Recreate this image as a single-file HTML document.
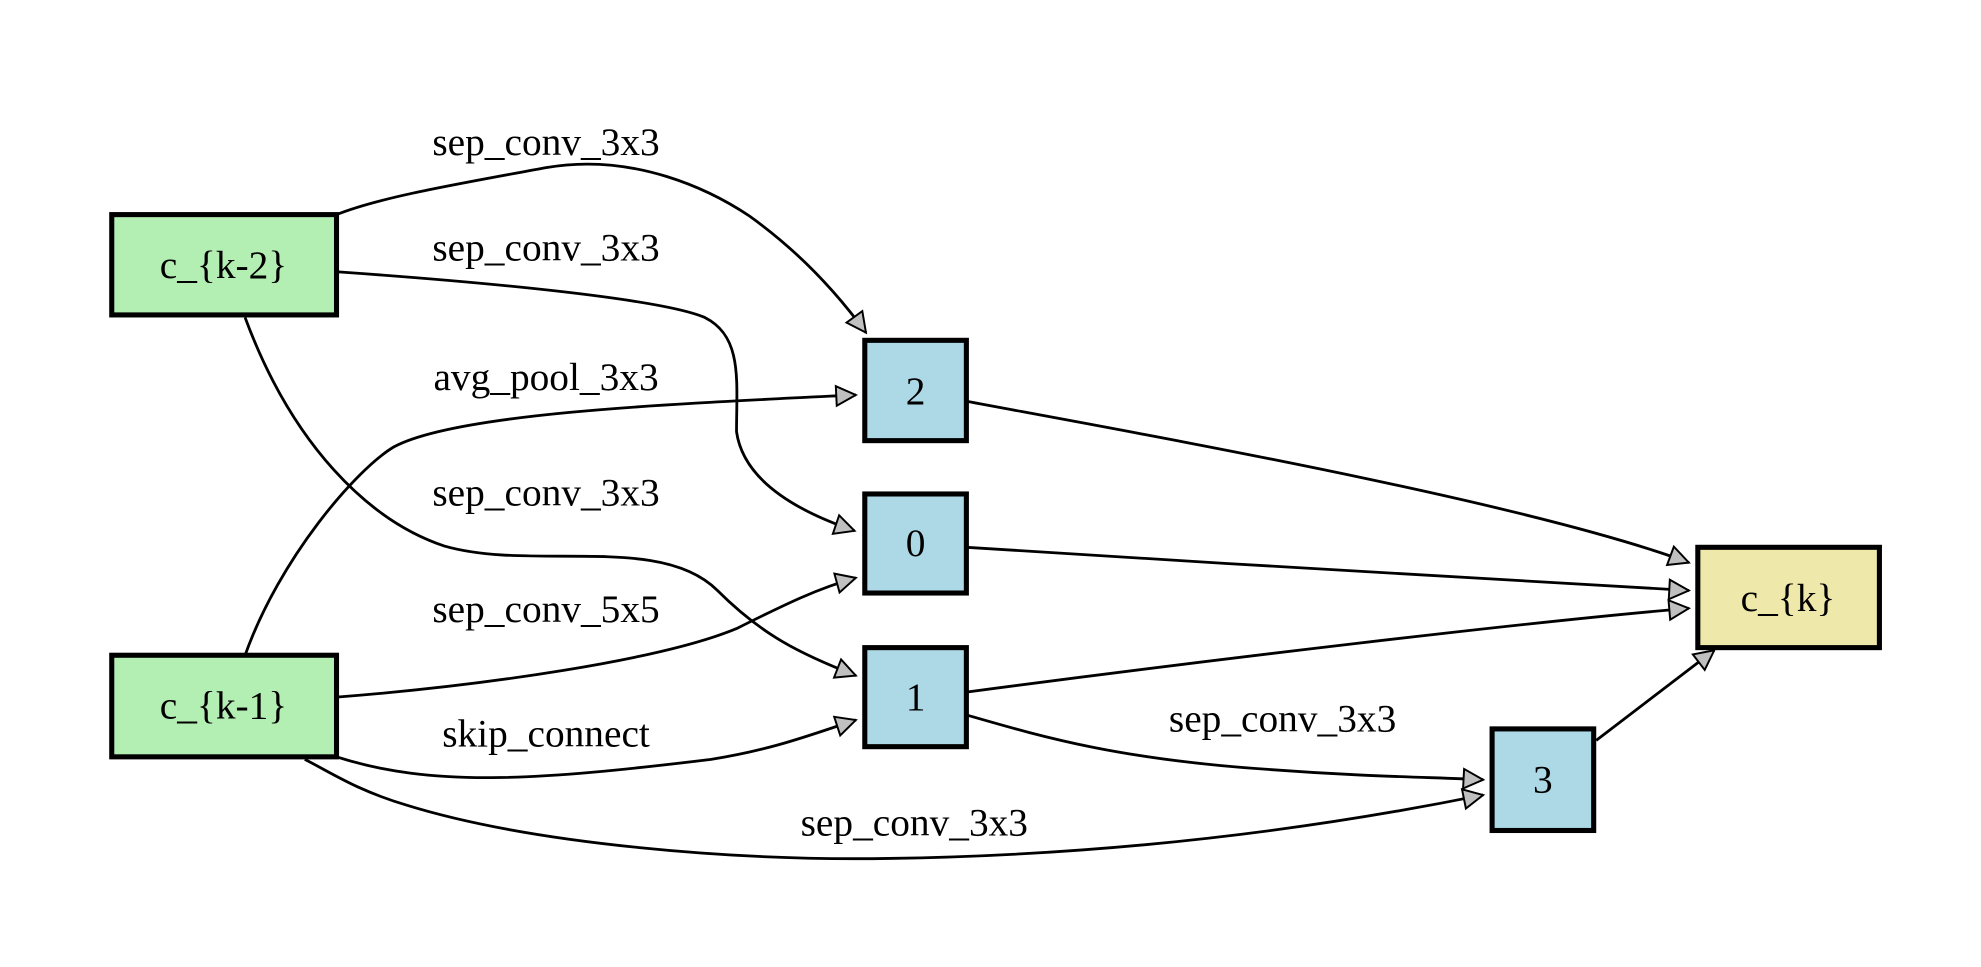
<!DOCTYPE html>
<html><head><meta charset="utf-8"><style>
html,body{margin:0;padding:0;background:#fff;}
svg{display:block;}
text{font-family:"Liberation Serif",serif;font-size:31px;fill:#000;}
</style></head><body>
<svg width="1981" height="967" viewBox="0 0 1560 761.5" preserveAspectRatio="none" xmlns="http://www.w3.org/2000/svg">
<defs>
<marker id="a" viewBox="0 0 10 10" refX="10" refY="5" markerWidth="7" markerHeight="7" markerUnits="userSpaceOnUse" orient="auto" overflow="visible">
<path d="M0,0 L10,5 L0,10 Z" fill="#c0c0c0" stroke="#000" stroke-width="1" transform="scale(2.2) translate(-5.5,-2.7)"/>
</marker>
</defs>
<g fill="none" stroke="#000" stroke-width="2.2" marker-end="url(#a)">
<path d="M265,169 C300,155 360,145 430,132 C500,120 560,150 590,170 C625,195 655,225 682,262"/>
<path d="M265,214 C380,222 520,235 555,250 C585,265 580,300 580,340 C585,375 620,400 673,418"/>
<path d="M193,250 C230,350 290,410 350,430 C420,450 520,420 565,465 C600,500 630,515 674,532"/>
<path d="M193,516 C220,440 280,370 310,352 C360,325 530,318 674,311"/>
<path d="M265,549 C380,540 520,520 580,495 C620,475 645,463 674,455"/>
<path d="M265,596 C340,620 420,615 560,598 C610,590 640,578 674,567"/>
<path d="M240,598 C260,608 280,622 320,634 C420,665 580,678 700,676 C840,674 1000,660 1168,626"/>
<path d="M761,563 C820,580 880,598 1000,606 C1080,612 1130,612 1168,614"/>
<path d="M761,316 C900,342 1200,395 1330,443"/>
<path d="M761,431 C950,443 1200,458 1330,465"/>
<path d="M761,545 C950,520 1200,490 1330,479"/>
<path d="M1257,583 C1290,558 1320,535 1350,512"/>
</g>
<g stroke="#000" stroke-width="4">
<rect x="88" y="169" width="177" height="79" fill="#b3eeb3"/>
<rect x="88" y="516" width="177" height="80" fill="#b3eeb3"/>
<rect x="681" y="268" width="80" height="79" fill="#add8e6"/>
<rect x="681" y="389" width="80" height="78" fill="#add8e6"/>
<rect x="681" y="510" width="80" height="78" fill="#add8e6"/>
<rect x="1175" y="574" width="80" height="80" fill="#add8e6"/>
<rect x="1337" y="431" width="143" height="79" fill="#eee8aa"/>
</g>
<g text-anchor="middle">
<text x="176" y="219">c_{k-2}</text>
<text x="176" y="566">c_{k-1}</text>
<text x="721" y="318">2</text>
<text x="721" y="438">0</text>
<text x="721" y="559">1</text>
<text x="1215" y="624">3</text>
<text x="1408" y="481">c_{k}</text>
<text x="430" y="122">sep_conv_3x3</text>
<text x="430" y="205">sep_conv_3x3</text>
<text x="430" y="307">avg_pool_3x3</text>
<text x="430" y="398">sep_conv_3x3</text>
<text x="430" y="490">sep_conv_5x5</text>
<text x="430" y="588">skip_connect</text>
<text x="1010" y="576">sep_conv_3x3</text>
<text x="720" y="658">sep_conv_3x3</text>
</g>
</svg>
</body></html>
